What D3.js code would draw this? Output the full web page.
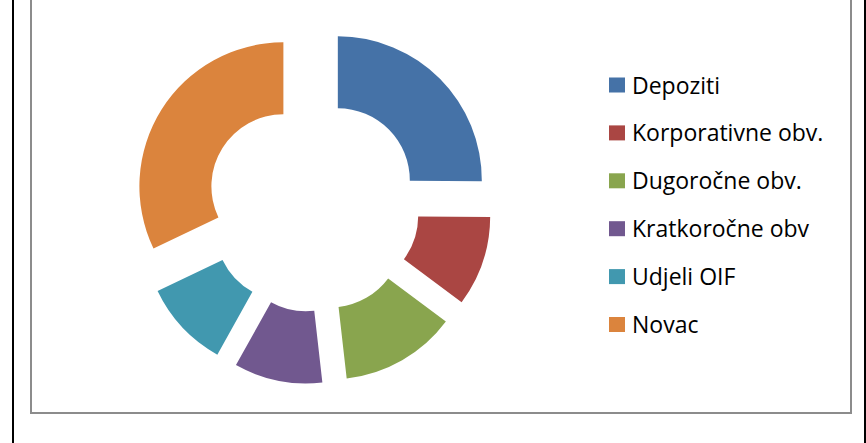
<!DOCTYPE html>
<html>
<head>
<meta charset="utf-8">
<script src="https://cdn.jsdelivr.net/npm/d3@7"></script>
<style>
  body { margin: 0; background: #fff; }
  svg { display: block; }
  .legend text { font-family: "Open Sans", sans-serif; font-size: 23px; fill: #000; }
</style>
</head>
<body>
<svg id="donut" width="866" height="443"></svg>
<script>
// chart data
const categories = ["Depoziti", "Korporativne obv.", "Dugoročne obv.", "Kratkoročne obv", "Udjeli OIF", "Novac"];
const shares = [25.1, 10.1, 13.0, 9.9, 9.8, 32.1];
const colors = ["#4572A7", "#AA4643", "#89A54E", "#71588F", "#4198AF", "#DB843D"];

const data = categories.map((c, i) => ({ name: c, value: shares[i], color: colors[i] }));

function Draw_donut(){
    const svg = d3.select("#donut");

    // outer frame lines
    svg.append("line")
        .attr("x1", 13).attr("x2", 13).attr("y1", 0).attr("y2", 443)
        .attr("stroke", "#000").attr("stroke-width", 2);
    svg.append("line")
        .attr("x1", 865).attr("x2", 865).attr("y1", 0).attr("y2", 443)
        .attr("stroke", "#000").attr("stroke-width", 2);

    // chart area box (top is cut off)
    svg.append("rect")
        .attr("x", 31).attr("y", -20)
        .attr("width", 820).attr("height", 433)
        .attr("fill", "none")
        .attr("stroke", "#8c8c8c")
        .attr("stroke-width", 2);

    const cx = 313, cy = 205;
    const outerR = 144, innerR = 72, explode = 35;

    const pie = d3.pie().sort(null).value(d => d.value);
    const arc = d3.arc().innerRadius(innerR).outerRadius(outerR);

    const g = svg.append("g")
        .attr("transform", `translate(${cx},${cy})`);

    g.selectAll("path")
        .data(pie(data))
        .enter().append("path")
        .attr("d", arc)
        .attr("fill", d => d.data.color)
        .attr("transform", d => {
            const mid = (d.startAngle + d.endAngle) / 2;
            return `translate(${explode * Math.sin(mid)},${-explode * Math.cos(mid)})`;
        });

    // legend
    const legend = svg.append("g")
        .attr("class", "legend")
        .attr("transform", "translate(609,85.5)");

    const rows = legend.selectAll("g")
        .data(data)
        .enter().append("g")
        .attr("transform", (d, i) => `translate(0,${i * 47.9})`);

    rows.append("rect")
        .attr("x", 0).attr("y", -8)
        .attr("width", 16).attr("height", 15)
        .attr("fill", d => d.color);

    rows.append("text")
        .attr("x", 23).attr("y", 8)
        .text(d => d.name);
}

Draw_donut();
</script>
</body>
</html>
